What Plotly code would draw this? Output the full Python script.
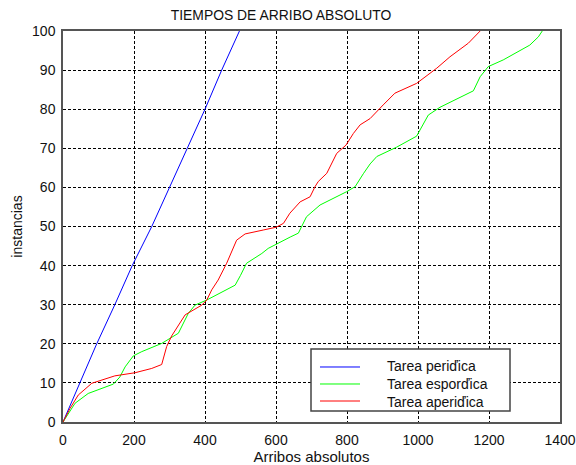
import plotly.graph_objects as go

# Tarea periódica (blue)
per_x = [0, 48, 95, 146, 195, 250, 301, 350, 400, 447, 497]
per_y = [0, 10, 20, 30, 40, 50, 60, 70, 80, 90, 100]

# Tarea esporádica (green)
esp_x = [0, 10, 34, 71, 142, 160, 175, 198, 222, 278, 325, 353, 372, 405, 485, 500, 517,
         560, 578, 640, 663, 686, 724, 799, 823, 846, 865, 884, 940, 996, 1010, 1029,
         1062, 1156, 1175, 1198, 1240, 1315, 1339, 1350]
esp_y = [0, 1.5, 4.8, 7.3, 9.7, 11.5, 14.1, 16.9, 18, 20.1, 22.7, 27.8, 29.9, 31.2, 35, 37.5, 40.6,
         43.1, 44.4, 47.3, 48.3, 52.5, 55.5, 58.9, 60.2, 63.5, 66, 67.9, 70.3, 73.1, 75.5, 78.5,
         80.5, 84.7, 88.3, 90.9, 92.6, 96.4, 98.5, 100]

# Tarea aperiódica (red)
ape_x = [0, 20, 43, 81, 146, 203, 250, 278, 292, 306, 344, 391, 405, 419, 437, 461, 489, 513,
         564, 600, 621, 639, 668, 696, 710, 719, 743, 757, 771, 797, 818, 837, 865, 902, 935,
         996, 1053, 1090, 1142, 1175]
ape_y = [0, 3.5, 6.9, 9.9, 11.8, 12.6, 13.7, 14.7, 19.3, 22, 27.4, 29.9, 31.2, 33.8, 36.3, 40.6,
         46.5, 48.1, 49.1, 49.8, 50.8, 53.4, 56.3, 57.6, 60.2, 61.5, 63.6, 66.2, 68.7, 70.8, 73.8,
         76, 77.6, 81.1, 84.1, 86.6, 90.5, 93.4, 96.9, 100]

names = ["Tarea periďica", "Tarea esporďica", "Tarea aperiďica"]
colors = ["#0000ff", "#00ff00", "#ff0000"]
x_ticks = [0, 200, 400, 600, 800, 1000, 1200, 1400]
y_ticks = list(range(0, 101, 10))

FONT = "Liberation Sans, Arial, sans-serif"

fig = go.Figure()
for xs, ys, nm, c in [(per_x, per_y, names[0], colors[0]),
                      (esp_x, esp_y, names[1], colors[1]),
                      (ape_x, ape_y, names[2], colors[2])]:
    fig.add_trace(go.Scatter(x=xs, y=ys, mode="lines", name=nm,
                             line=dict(color=c, width=1), showlegend=False))

axis_common = dict(
    showline=True, mirror=True, linecolor="#555555", linewidth=1.5,
    ticks="", automargin=False,
    showgrid=True, gridcolor="#000000", gridwidth=1, griddash="3px,2px",
    zeroline=False, tickfont=dict(family=FONT, size=14, color="#111111"),
)

# custom legend (MATLAB style), placed in paper coordinates
leg_box = dict(x0=0.499, x1=0.8994, y0=0.0281, y1=0.1867)
leg_rows = [0.1407, 0.0972, 0.0537]
shapes = [dict(type="rect", xref="paper", yref="paper", **leg_box,
               line=dict(color="#444444", width=1.5), fillcolor="white", layer="above")]
for yy, c in zip(leg_rows, colors):
    shapes.append(dict(type="line", xref="paper", yref="paper", x0=0.5171, x1=0.5976,
                       y0=yy, y1=yy, line=dict(color=c, width=1), layer="above"))
annotations = [dict(text="<br>".join(names), xref="paper", yref="paper", x=0.6499,
                    y=leg_rows[1], xanchor="left", yanchor="middle", align="left",
                    showarrow=False, borderpad=0,
                    font=dict(family=FONT, size=14, color="#111111"))]

fig.update_layout(
    width=576, height=465,
    margin=dict(l=63, r=16, t=31, b=43),
    paper_bgcolor="white", plot_bgcolor="white",
    font=dict(family=FONT, size=14, color="#111111"),
    title=dict(text="TIEMPOS DE ARRIBO ABSOLUTO", x=0.4878, xanchor="center",
               y=0.9677, yanchor="middle", font=dict(size=13.9, color="#111111")),
    xaxis=dict(range=[0, 1400], tickvals=x_ticks, ticklabelstandoff=4,
               title=dict(text="Arribos absolutos", standoff=3, font=dict(size=15)), **axis_common),
    yaxis=dict(range=[0, 100], tickvals=y_ticks, ticklabelstandoff=3,
               title=dict(text="instancias", standoff=6, font=dict(size=14)), **axis_common),
    shapes=shapes,
    annotations=annotations,
    showlegend=False,
)

fig.write_html("out.html", config={"displayModeBar": False},
               post_script="document.body.style.margin='0';")
